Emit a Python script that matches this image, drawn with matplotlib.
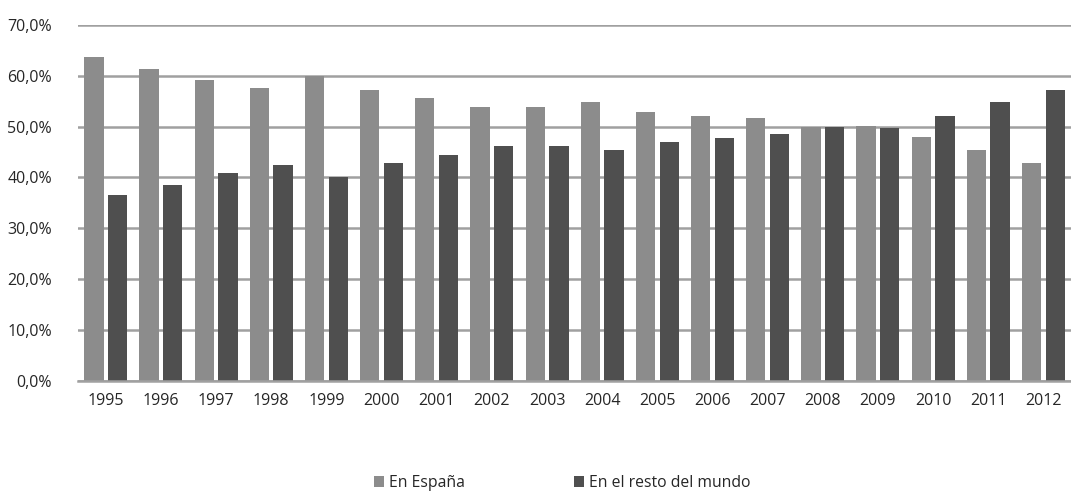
import numpy as np
import matplotlib
matplotlib.use("Agg")
import matplotlib.pyplot as plt
from matplotlib.ticker import FuncFormatter

plt.rcParams['font.family'] = ['Open Sans', 'DejaVu Sans']

years = [str(y) for y in range(1995, 2013)]
espana = [63.6, 61.3, 59.1, 57.5, 60.0, 57.2, 55.6, 53.9, 53.9, 54.8,
          52.9, 52.1, 51.6, 50.0, 50.1, 48.0, 45.3, 42.9]
resto = [36.5, 38.6, 40.9, 42.5, 40.1, 42.8, 44.4, 46.1, 46.1, 45.3,
         46.9, 47.7, 48.5, 50.0, 49.7, 52.0, 54.8, 57.2]

x = np.arange(len(years))
w = 0.35
off = 0.215

fig = plt.figure(figsize=(10.71, 4.96), dpi=100)
ax = fig.add_axes([0.073, 0.232, 0.927, 0.718])

ax.bar(x - off, espana, w, color='#8c8c8c', label='En España', zorder=2)
ax.bar(x + off, resto, w, color='#4f4f4f', label='En el resto del mundo', zorder=2)

ax.set_xlim(-0.5, len(years) - 0.5)
ax.set_ylim(0, 70)
ax.set_yticks(np.arange(0, 71, 10))
ax.yaxis.set_major_formatter(FuncFormatter(lambda v, p: f"{v:.1f}%".replace('.', ',')))
ax.set_xticks(x)
ax.set_xticklabels(years)
ax.tick_params(length=0, labelsize=11.5, colors='#262626')
ax.tick_params(axis='x', pad=9)
ax.tick_params(axis='y', pad=19)
ax.grid(axis='y', color='#a0a0a0', linewidth=1.8, zorder=0)
ax.set_axisbelow(True)
for s in ['top', 'right', 'left']:
    ax.spines[s].set_visible(False)
ax.spines['bottom'].set_color('#a0a0a0')
ax.spines['bottom'].set_linewidth(1.8)

fig.legend(loc='center', bbox_to_anchor=(0.525, 0.026), ncol=2, frameon=False,
           handlelength=0.65, handleheight=0.65, handletextpad=0.35,
           columnspacing=6.9, fontsize=11.3, labelcolor='#262626')

fig.savefig('out.png', dpi=100)
